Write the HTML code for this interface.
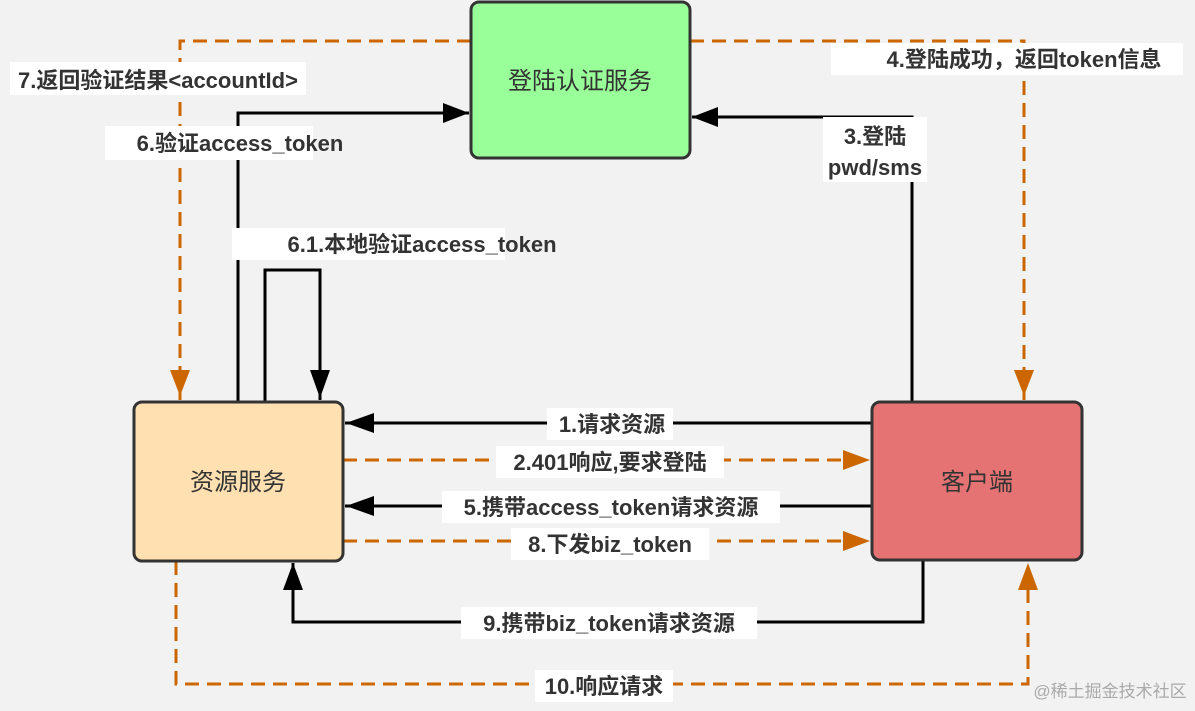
<!DOCTYPE html>
<html><head><meta charset="utf-8"><style>
body{margin:0;background:#f2f2f2;}
svg text{font-family:"Liberation Sans","Noto Sans CJK SC",sans-serif;}
.l{font-weight:bold;font-size:22px;fill:#333;}
</style></head><body>
<svg width="1195" height="706" viewBox="0 0 1195 706" xmlns="http://www.w3.org/2000/svg">
<defs>
<marker id="ab" markerWidth="10" markerHeight="10" refX="9" refY="5" orient="auto" markerUnits="userSpaceOnUse" viewBox="0 0 10 10"><path d="M0,0L10,5L0,10z" fill="#000"/></marker>
<marker id="ao" markerWidth="10" markerHeight="10" refX="9" refY="5" orient="auto" markerUnits="userSpaceOnUse" viewBox="0 0 10 10"><path d="M0,0L10,5L0,10z" fill="#cc6600"/></marker>
</defs>
<g fill="none" stroke-width="3">
<g stroke="#cc6600" stroke-dasharray="14,8">
<path d="M471,41H180V400" marker-end="url(#ao)" style="marker-end:none"/>
<path d="M690,41H1024V400"/>
<path d="M343,460H870"/>
<path d="M343,541H870"/>
<path d="M176,561V684H1028V563"/>
</g>
<g stroke="#000">
<path d="M238,402V113H469"/>
<path d="M265,402V270H320V400"/>
<path d="M912,402V117H692"/>
<path d="M872,423H345"/>
<path d="M875,506H345"/>
<path d="M923,561V622H293V563"/>
</g>
</g>
<g fill="#cc6600">
<path d="M170,370L190,370L180,396z"/><path d="M1014,370L1034,370L1024,396z"/>
<path d="M843,450L870,460L843,470z"/><path d="M843,531L870,541L843,551z"/>
<path d="M1018,590L1038,590L1028,563z"/>
</g>
<g fill="#000">
<path d="M443,103L469,113L443,123z"/><path d="M310,370L330,370L320,398z"/>
<path d="M718,107L692,117L718,127z"/>
<path d="M374,413L346,423L374,433z"/><path d="M374,496L346,506L374,516z"/>
<path d="M283,590L303,590L293,563z"/>
</g>
<rect x="471" y="2" width="219" height="156" rx="8" fill="#99ff99" stroke="#333" stroke-width="3"/>
<rect x="134" y="402" width="209" height="159" rx="8" fill="#ffe0b0" stroke="#333" stroke-width="3"/>
<rect x="872" y="402" width="210" height="158" rx="8" fill="#e57373" stroke="#333" stroke-width="3"/>
<g font-size="24" fill="#333" text-anchor="middle">
<text x="580" y="89">登陆认证服务</text>
<text x="238" y="490">资源服务</text>
<text x="977" y="490">客户端</text>
</g>
<g fill="#fff">
<rect x="10" y="62" width="296" height="33"/><rect x="105" y="126" width="208" height="34"/>
<rect x="232" y="228" width="273" height="32"/><rect x="831" y="43" width="352" height="32"/>
<rect x="823" y="117" width="104" height="65"/>
<rect x="547" y="408" width="126" height="32"/><rect x="496" y="446" width="228" height="32"/>
<rect x="442" y="491" width="338" height="32"/><rect x="511" y="528" width="198" height="32"/>
<rect x="461" y="607" width="296" height="32"/><rect x="535" y="670" width="138" height="32"/>
</g>
<g class="l" text-anchor="middle">
<text class="l" x="158" y="88">7.返回验证结果&lt;accountId&gt;</text>
<text class="l" x="240" y="151">6.验证access_token</text>
<text class="l" x="422" y="252">6.1.本地验证access_token</text>
<text class="l" x="1024" y="67">4.登陆成功，返回token信息</text>
<text class="l" x="875" y="144">3.登陆</text>
<text class="l" x="875" y="175">pwd/sms</text>
<text class="l" x="612" y="432">1.请求资源</text>
<text class="l" x="610" y="470">2.401响应,要求登陆</text>
<text class="l" x="611" y="515">5.携带access_token请求资源</text>
<text class="l" x="610" y="552">8.下发biz_token</text>
<text class="l" x="609" y="631">9.携带biz_token请求资源</text>
<text class="l" x="604" y="694">10.响应请求</text>
</g>
<text x="1110" y="697" font-size="17" fill="#aaa" text-anchor="middle">@稀土掘金技术社区</text>
</svg>
</body></html>
